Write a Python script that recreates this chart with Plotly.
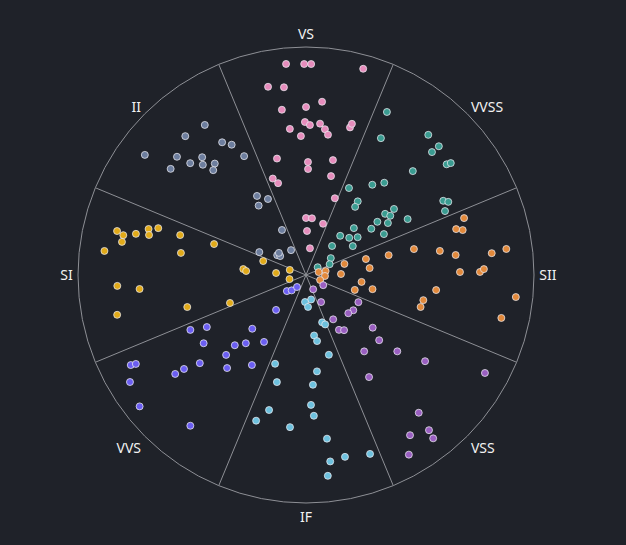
import plotly.graph_objects as go

categories = ["VS", "VVSS", "SII", "VSS", "IF", "VVS", "SI", "II"]
colors = ["#e68cbc", "#3a9c91", "#e2893b", "#9a5fc1", "#6dc1de", "#6b5ef2", "#e1aa19", "#6d7e9e"]

# radius and angle (degrees, clockwise from top) per category
VS_r = [212, 211, 211, 214, 192, 189, 168, 174, 167, 153, 150, 152, 147, 147, 139, 142, 154, 158,
        120, 113, 106, 118, 102, 102, 96, 82, 57, 57, 54, 44, 27]
VS_t = [-5.4, -0.5, 1.4, 15.5, -11.4, -6.7, 0.0, 5.3, -8.3, -0.4, 1.5, 5.3, 7.4, -6.3, -2.1, 8.9, 16.6, 16.9,
        -14.0, 1.0, 1.1, 13.2, 14.2, -19.0, -16.9, 20.6, 0.0, 6.0, 18.4, 1.3, 8.4]

VVSS_r = [182, 156, 186, 185, 176, 179, 183, 149, 97, 112, 121, 90, 84, 110, 100, 103, 89, 97, 116,
          156, 160, 153, 67, 80, 88, 52, 57, 64, 39, 55, 30, 26, 14]
VVSS_t = [26.4, 28.7, 41.1, 45.9, 45.7, 51.8, 52.3, 45.8, 26.3, 36.3, 40.3, 35.1, 35.8, 53.1, 52.3, 54.9,
          53.3, 57.6, 61.2, 61.6, 62.8, 65.3, 45.6, 54.7, 62.3, 41.1, 49.3, 53.8, 41.9, 58.3, 55.8, 65.4, 56.3]

SII_r = [168, 157, 163, 111, 136, 151, 187, 202, 62, 85, 40, 64, 35, 154, 174, 178, 13, 20, 19, 15,
         56, 51, 68, 131, 120, 119, 211, 200]
SII_t = [70.2, 73.0, 74.0, 76.5, 79.8, 82.4, 83.3, 82.6, 75.1, 76.5, 73.9, 83.8, 88.4, 88.9, 89.0, 88.1,
         77.0, 78.7, 93.0, 109.7, 97.1, 107.0, 102.0, 96.6, 102.1, 105.6, 96.0, 102.4]

VSS_r = [16, 20, 31, 59, 59, 57, 52, 64, 67, 85, 98, 96, 119, 147, 120, 204, 178, 191, 198, 207, 207]
VSS_t = [153.4, 120.5, 150.9, 117.4, 126.7, 132.1, 148.5, 149.0, 145.4, 128.3, 131.7, 142.7, 129.9,
         125.9, 148.3, 118.7, 140.7, 147.0, 141.6, 142.1, 150.2]

IF_r = [25, 27, 32, 50, 53, 61, 67, 83, 97, 110, 94, 111, 130, 141, 165, 188, 186, 190, 202, 140, 154, 153]
IF_t = [168.2, 182.1, 176.4, 161.2, 158.8, 172.4, 170.5, 164.0, 173.5, 176.4, 199.2, 195.2, 177.8,
        176.8, 172.7, 172.6, 167.9, 160.3, 173.8, 195.3, 198.9, 186.0]

VVS_r = [25, 21, 15, 46, 128, 112, 76, 123, 100, 91, 79, 113, 197, 192, 138, 154, 164, 122, 105, 206, 212, 190]
VVS_t = [229.9, 223.0, 216.9, 220.6, 244.6, 242.3, 225.0, 236.3, 225.4, 221.4, 212.1, 225.0, 242.8,
         242.4, 230.3, 232.4, 232.9, 220.3, 211.0, 238.7, 231.7, 217.5]

SI_r = [194, 187, 187, 175, 164, 162, 155, 132, 203, 127, 97, 45, 63, 60, 30, 17, 17, 189, 167, 193, 123, 81]
SI_t = [283.1, 282.3, 280.2, 283.6, 286.3, 284.3, 287.6, 287.6, 276.8, 280.0, 288.6, 288.0, 275.4,
        273.8, 273.8, 287.4, 256.0, 266.7, 265.2, 258.1, 254.9, 249.8]

II_r = [181, 184, 157, 150, 201, 175, 157, 134, 172, 161, 151, 144, 140, 93, 85, 84, 51, 52, 35, 32, 35, 29]
II_t = [326.0, 319.0, 327.7, 330.3, 306.7, 312.5, 318.6, 332.5, 308.1, 314.0, 316.9, 320.7, 318.5,
        328.2, 333.4, 325.7, 331.9, 296.1, 304.6, 306.2, 309.2, 329.0]

series = [(VS_r, VS_t), (VVSS_r, VVSS_t), (SII_r, SII_t), (VSS_r, VSS_t),
          (IF_r, IF_t), (VVS_r, VVS_t), (SI_r, SI_t), (II_r, II_t)]

R_MAX = 228
BG = "#1f2229"
step = 360 / len(categories)
centers = [i * step for i in range(len(categories))]

fig = go.Figure()

# sector boundary lines
for c in centers:
    b = c + step / 2
    fig.add_trace(go.Scatterpolar(r=[0, R_MAX], theta=[b, b], mode="lines",
                                  line=dict(color="#8e9096", width=1), hoverinfo="skip",
                                  showlegend=False))

for name, (rr, tt), col in zip(categories, series, colors):
    fig.add_trace(go.Scatterpolar(r=rr, theta=tt, mode="markers", name=name,
                                  marker=dict(size=7, color=col,
                                              line=dict(color="rgba(235,235,240,0.75)", width=1)),
                                  showlegend=False))

fig.update_layout(
    width=626, height=545, autosize=False,
    paper_bgcolor=BG, plot_bgcolor=BG,
    margin=dict(l=78, r=92, t=47, b=42),
    font=dict(family="Noto Sans, sans-serif", color="#f2f2f2", size=14),
    polar=dict(
        bgcolor=BG,
        angularaxis=dict(
            rotation=90, direction="clockwise", thetaunit="degrees",
            tickmode="array", tickvals=centers, ticktext=categories,
            showgrid=False, ticks="outside", ticklen=2, tickcolor="rgba(0,0,0,0)",
            showline=True, linecolor="#8e9096", linewidth=1,
            tickfont=dict(color="#f2f2f2", size=14),
        ),
        radialaxis=dict(visible=False, range=[0, R_MAX]),
    ),
)

fig.write_html("out.html", config={"displayModeBar": False},
               post_script="document.body.style.margin='0';document.body.style.background='%s';" % BG)
